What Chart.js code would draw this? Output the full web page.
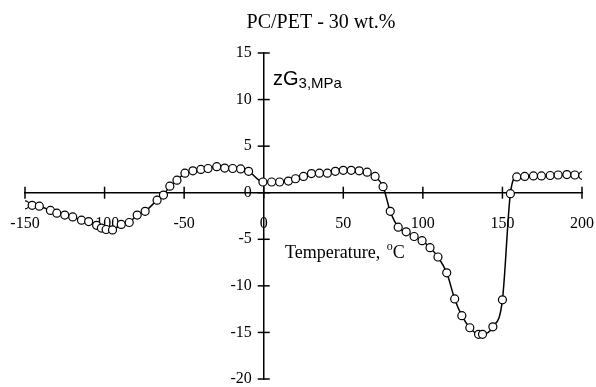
<!DOCTYPE html>
<html>
<head>
<meta charset="utf-8">
<script src="https://cdn.jsdelivr.net/npm/chart.js@4.4.0/dist/chart.umd.min.js"></script>
<style>
  html, body { margin: 0; padding: 0; background: #fff; }
  #wrap { width: 596px; height: 387px; position: relative; }
</style>
</head>
<body>
<div id="wrap"><canvas id="c" width="596" height="387"></canvas></div>
<script>
const chartTitle = 'PC/PET - 30 wt.%';
const xTickValues = [-150, -100, -50, 0, 50, 100, 150, 200];
const yTickValues = [15, 10, 5, 0, -5, -10, -15, -20];
const temps = [-150,-145.5,-141,-134,-130,-125,-120,-114.5,-110,-105,-102,-99,-95,-89.5,-84.5,-79.5,-74.5,-67,-63,-59,-54.5,-49.5,-44.5,-39.5,-35,-29.5,-24.5,-19.5,-14.5,-9.5,-0.5,5,10,15.5,20,25,30,35,40,45,50,55,60,65,70,75,79.5,84.5,89.5,94.5,99.5,104.5,109.5,115,120,124.5,129.5,135,137.5,144,150,155,159,164,169.5,174.5,180,185,190.5,195.5,200.5];
const zG3 = [-1.3,-1.35,-1.45,-1.9,-2.2,-2.4,-2.6,-2.95,-3.1,-3.5,-3.8,-3.95,-4.0,-3.4,-3.2,-2.4,-2.0,-0.8,-0.25,0.7,1.35,2.1,2.35,2.5,2.6,2.8,2.65,2.6,2.55,2.3,1.15,1.15,1.15,1.25,1.5,1.75,2.05,2.1,2.1,2.3,2.4,2.4,2.35,2.2,1.75,0.65,-2.0,-3.7,-4.2,-4.7,-5.15,-5.9,-6.9,-8.6,-11.4,-13.2,-14.5,-15.2,-15.2,-14.4,-11.5,-0.1,1.7,1.75,1.8,1.8,1.85,1.9,1.95,1.9,1.85];

const points = temps.map((t, i) => ({ x: t, y: zG3[i] }));

const crossTicks = {
  id: 'crossTicks',
  afterDraw(chart) {
    const ctx = chart.ctx;
    const xs = chart.scales.x, ys = chart.scales.y;
    const x0 = xs.getPixelForValue(0), y0 = ys.getPixelForValue(0);
    ctx.save();
    ctx.strokeStyle = '#000';
    ctx.lineWidth = 1.5;
    xTickValues.forEach(v => {
      const px = xs.getPixelForValue(v);
      ctx.beginPath(); ctx.moveTo(px, y0 - 6); ctx.lineTo(px, y0 + 6); ctx.stroke();
    });
    yTickValues.forEach(v => {
      const py = ys.getPixelForValue(v);
      ctx.beginPath(); ctx.moveTo(x0 - 6, py); ctx.lineTo(x0 + 6, py); ctx.stroke();
    });
    ctx.fillStyle = '#000';
    ctx.textBaseline = 'alphabetic';
    ctx.textAlign = 'center';
    ctx.font = '20px "Liberation Serif"';
    ctx.fillText(chartTitle, 321, 28);
    ctx.textAlign = 'left';
    ctx.font = '20px "Liberation Sans"';
    ctx.fillText('zG', 273, 85);
    let w = ctx.measureText('zG').width;
    ctx.font = '15px "Liberation Sans"';
    ctx.fillText('3,MPa', 273 + w, 88);
    ctx.font = '18px "Liberation Serif"';
    const t1 = 'Temperature, ';
    ctx.fillText(t1, 285, 258);
    w = ctx.measureText(t1).width;
    ctx.font = '12px "Liberation Serif"';
    ctx.fillText('o', 285 + w + 2, 250);
    const w2 = ctx.measureText('o').width;
    ctx.font = '18px "Liberation Serif"';
    ctx.fillText('C', 285 + w + w2 + 2, 258);
    ctx.restore();
  }
};

new Chart(document.getElementById('c'), {
  type: 'scatter',
  data: {
    datasets: [{
      data: points,
      showLine: true,
      borderColor: '#000',
      borderWidth: 1.5,
      cubicInterpolationMode: 'monotone',
      pointRadius: 4,
      pointBorderWidth: 1.2,
      pointBackgroundColor: '#fff',
      pointBorderColor: '#000'
    }]
  },
  options: {
    responsive: false,
    animation: false,
    layout: { padding: { left: 25, right: 14, top: 53, bottom: 7 } },
    plugins: { legend: { display: false }, tooltip: { enabled: false }, title: { display: false } },
    scales: {
      x: {
        type: 'linear',
        position: { y: 0 },
        min: -150, max: 200,
        afterBuildTicks: (s) => { s.ticks = xTickValues.map(v => ({ value: v })); },
        ticks: { color: '#000', font: { family: 'Liberation Serif', size: 16 }, padding: 0, maxRotation: 0, autoSkip: false },
        grid: { drawOnChartArea: false, drawTicks: true, tickLength: 21, tickColor: 'rgba(0,0,0,0)' },
        border: { display: true, color: '#000', width: 1.5 }
      },
      y: {
        type: 'linear',
        position: { x: 0 },
        min: -20, max: 15,
        afterBuildTicks: (s) => { s.ticks = yTickValues.map(v => ({ value: v })); },
        ticks: { color: '#000', font: { family: 'Liberation Serif', size: 16, lineHeight: 1 }, padding: 0, autoSkip: false,
                 callback: (v) => String(v) + '   ' },
        grid: { drawOnChartArea: false, drawTicks: false },
        border: { display: true, color: '#000', width: 1.5 }
      }
    }
  },
  plugins: [crossTicks]
});
</script>
</body>
</html>
